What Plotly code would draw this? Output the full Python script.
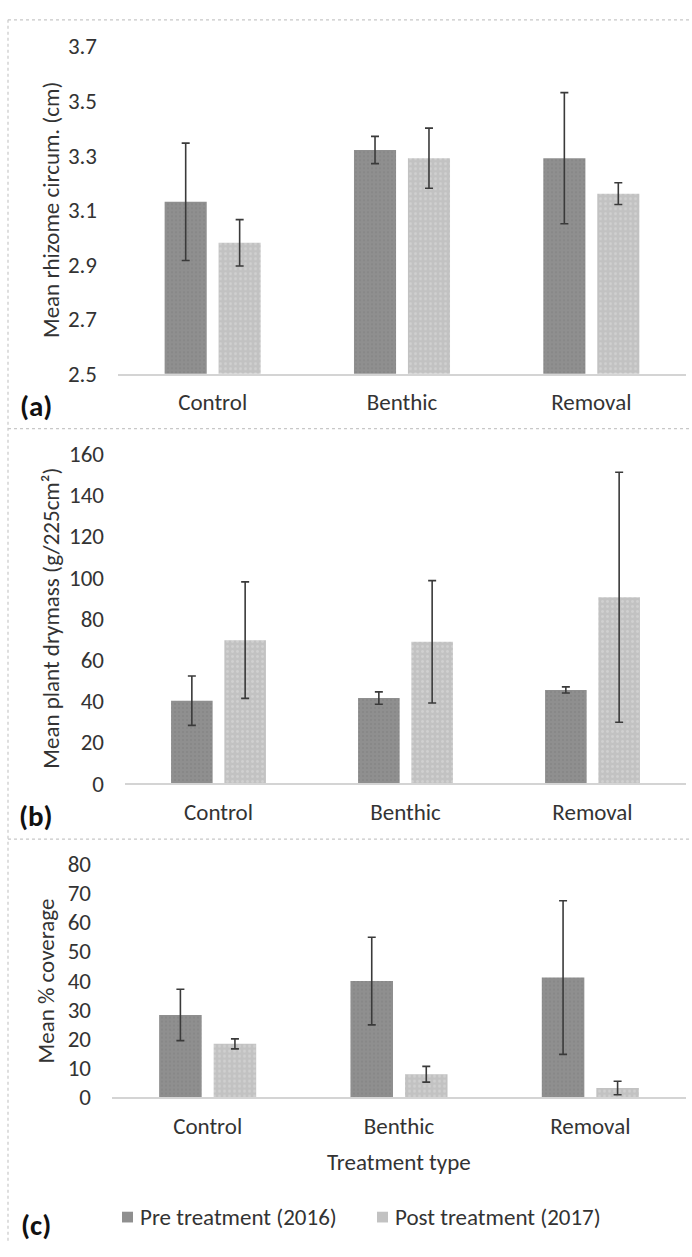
import plotly.graph_objects as go

W, H = 692, 1257

categories = ["Control", "Benthic", "Removal"]

# (a) Mean rhizome circumference (cm)
rhizome_pre = [3.13, 3.32, 3.29]
rhizome_pre_err = [0.215, 0.05, 0.24]
rhizome_post = [2.98, 3.29, 3.16]
rhizome_post_err = [0.085, 0.11, 0.04]

# (b) Mean plant drymass (g/225cm2)
drymass_pre = [40.2, 41.5, 45.4]
drymass_pre_err = [12.0, 3.0, 1.5]
drymass_post = [69.6, 68.8, 90.4]
drymass_post_err = [28.3, 29.7, 60.7]

# (c) Mean % coverage
coverage_pre = [28.2, 39.8, 41.0]
coverage_pre_err = [8.8, 15.0, 26.3]
coverage_post = [18.3, 7.9, 3.2]
coverage_post_err = [1.7, 2.7, 2.3]

series_names = ["Pre treatment (2016)", "Post treatment (2017)"]

y_titles = ["Mean rhizome circum. (cm)", "Mean plant drymass (g/225cm²)", "Mean % coverage"]
panel_labels = ["(a)", "(b)", "(c)"]
y_ranges = [[2.5, 3.7], [0, 160], [0, 80]]
y_dticks = [0.2, 20, 10]

FONT = "Carlito, Lato, sans-serif"
FS = 23
PRE_BG, PRE_FG = "#8f8f8f", "#828282"
POST_BG, POST_FG = "#c2c2c2", "#dedede"
ERR = "#3a3a3a"
TXT = "#333333"

def px(x):
    return x / W

def py(y):
    return 1 - y / H

# pixel geometry of plot areas: (x0, x1, ytop, ybottom)
areas = [(118, 686, 33, 368), (125, 686, 450, 787), (112, 686, 869, 1108)]

data_sets = [
    (rhizome_pre, rhizome_pre_err, rhizome_post, rhizome_post_err),
    (drymass_pre, drymass_pre_err, drymass_post, drymass_post_err),
    (coverage_pre, coverage_pre_err, coverage_post, coverage_post_err),
]

fig = go.Figure()
layout = dict(
    width=W, height=H, margin=dict(l=0, r=0, t=0, b=0),
    paper_bgcolor="white", plot_bgcolor="white",
    barmode="group", bargap=0.43, bargroupgap=0.22,
    showlegend=False,
    font=dict(family=FONT, size=FS, color=TXT),
)

annotations = []
shapes = []

for i, ((x0, x1, yt, yb), (pre, pre_e, post, post_e)) in enumerate(zip(areas, data_sets)):
    sfx = "" if i == 0 else str(i + 1)
    xa, ya = "x" + sfx, "y" + sfx
    fig.add_trace(go.Bar(
        x=categories, y=pre, name=series_names[0], xaxis=xa, yaxis=ya,
        marker=dict(color=PRE_BG, line=dict(width=0),
                    pattern=dict(shape=".", bgcolor=PRE_BG, fgcolor=PRE_FG, size=4, solidity=0.35)),
        error_y=dict(type="data", array=pre_e, visible=True, color=ERR, thickness=1.6, width=4),
    ))
    fig.add_trace(go.Bar(
        x=categories, y=post, name=series_names[1], xaxis=xa, yaxis=ya,
        marker=dict(color=POST_BG, line=dict(width=0),
                    pattern=dict(shape=".", bgcolor=POST_BG, fgcolor=POST_FG, size=5, solidity=0.25)),
        error_y=dict(type="data", array=post_e, visible=True, color=ERR, thickness=1.6, width=4),
    ))
    layout["xaxis" + sfx] = dict(
        domain=[px(x0), px(x1)], anchor=ya, showgrid=False, zeroline=False,
        showline=True, linecolor="#d4d4d4", linewidth=1.5, ticks="",
        tickfont=dict(family=FONT, size=FS, color=TXT), ticklabelstandoff=7,
        fixedrange=True,
    )
    layout["yaxis" + sfx] = dict(
        domain=[py(yb), py(yt)], anchor=xa, range=y_ranges[i], dtick=y_dticks[i],
        tick0=y_ranges[i][0], showgrid=False, zeroline=False, showline=False, ticks="",
        tickfont=dict(family=FONT, size=FS, color=TXT), ticklabelstandoff=20,
        tickformat=".1f" if i == 0 else "d", fixedrange=True,
    )
    # y title
    annotations.append(dict(
        x=px([51, 51, 46][i]), y=py((yt + yb) / 2), xref="paper", yref="paper",
        text=y_titles[i], textangle=-90, showarrow=False,
        font=dict(family=FONT, size=FS, color=TXT), xanchor="center", yanchor="middle",
    ))

# panel labels
for lab, yc in zip(panel_labels, [401, 820, 1239]):
    annotations.append(dict(
        x=px(36), y=py(yc), xref="paper", yref="paper", text="<b>" + lab + "</b>",
        showarrow=False, font=dict(family=FONT, size=29, color="#111111"),
        xanchor="center", yanchor="middle",
    ))

# x axis title
annotations.append(dict(
    x=px(399), y=py(1174), xref="paper", yref="paper", text="Treatment type",
    showarrow=False, font=dict(family=FONT, size=FS, color=TXT),
    xanchor="center", yanchor="middle",
))

# legend (manual)
legend_items = [(122, PRE_BG, series_names[0]), (377, POST_BG, series_names[1])]
for lx, col, name in legend_items:
    shapes.append(dict(type="rect", xref="paper", yref="paper",
                       x0=px(lx), x1=px(lx + 11), y0=py(1236), y1=py(1225),
                       fillcolor=col, line=dict(width=0)))
    annotations.append(dict(
        x=px(lx + 16), y=py(1230), xref="paper", yref="paper", text=name,
        showarrow=False, font=dict(family=FONT, size=FS, color=TXT),
        xanchor="left", yanchor="middle",
    ))

# panel borders (dotted)
bc = "#c8c8c8"
for yb_ in [6, 424, 844]:
    shapes.append(dict(type="line", xref="paper", yref="paper",
                       x0=px(8), x1=1, y0=py(yb_), y1=py(yb_),
                       line=dict(color=bc, width=1.2, dash="dot")))
shapes.append(dict(type="line", xref="paper", yref="paper",
                   x0=px(8), x1=px(8), y0=py(6), y1=0,
                   line=dict(color=bc, width=1.2, dash="dot")))

layout["annotations"] = annotations
layout["shapes"] = shapes
fig.update_layout(**layout)

fig.write_html(
    "out.html",
    config={"displayModeBar": False},
    post_script="document.body.style.margin='0';document.body.style.overflow='hidden';",
)
